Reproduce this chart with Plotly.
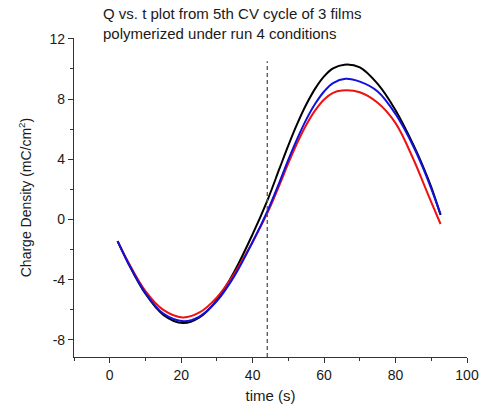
import plotly.graph_objects as go

# time (s) sample points and charge density (mC/cm^2) for 3 films
t_black = [2.2, 5, 10, 15, 20.5, 25, 30, 35, 40, 44.2, 47.5, 50, 52.5, 55, 57.5, 60, 62.5, 65.7, 70, 75, 80, 85, 88, 90, 92.6]
q_black = [-1.44, -2.82, -4.93, -6.33, -6.88, -6.52, -5.33, -3.40, -0.97, 1.31, 3.37, 4.92, 6.36, 7.63, 8.69, 9.50, 10.03, 10.28, 10.1, 9.0, 7.25, 4.95, 3.35, 2.15, 0.3]

t_blue = [2.2, 5, 10, 15, 20.7, 25, 30, 35, 40, 44.2, 47.5, 50, 52.5, 55, 57.5, 60, 62.5, 66, 70, 75, 80, 85, 88, 90, 92.6]
q_blue = [-1.44, -2.8, -4.88, -6.25, -6.75, -6.46, -5.41, -3.71, -1.49, 0.59, 2.47, 3.97, 5.37, 6.63, 7.68, 8.50, 9.06, 9.34, 9.15, 8.5, 7.0, 4.85, 3.25, 2.05, 0.35]

t_red = [2.2, 5, 10, 15, 20.4, 25, 30, 35, 40, 44.2, 47.5, 50, 52.5, 55, 57.5, 60, 62.5, 65, 70, 75, 80, 85, 88, 90, 92.6]
q_red = [-1.44, -2.75, -4.75, -6.0, -6.5, -6.19, -5.17, -3.54, -1.48, 0.47, 2.29, 3.74, 5.09, 6.27, 7.24, 7.97, 8.41, 8.56, 8.45, 7.75, 6.4, 4.0, 2.3, 1.15, -0.3]

cycle_marker_t = 44.1
marker_top = 10.5

x_ticks = [0, 20, 40, 60, 80, 100]
y_ticks = [-8, -4, 0, 4, 8, 12]

fig = go.Figure()
for t, q, c in [(t_black, q_black, "#000000"), (t_red, q_red, "#ee1111"), (t_blue, q_blue, "#1111dd")]:
    fig.add_trace(go.Scatter(x=t, y=q, mode="lines", line=dict(color=c, width=2, shape="spline", smoothing=1.0),
                             showlegend=False, hoverinfo="skip"))

fig.add_shape(type="line", xref="x", yref="y", x0=cycle_marker_t, x1=cycle_marker_t, y0=-9.13, y1=marker_top,
              line=dict(color="#555555", width=1.3, dash="4px,3px"))

font = "Liberation Sans, Arial, sans-serif"
fig.update_layout(
    width=484, height=415,
    margin=dict(l=74, r=17, t=38, b=58, autoexpand=False),
    paper_bgcolor="white", plot_bgcolor="white",
    font=dict(family=font, size=14, color="#1a1a1a"),
    xaxis=dict(range=[-10, 100], showgrid=False, zeroline=False, showline=True, linecolor="#333333", linewidth=1.2,
               ticks="outside", ticklen=5, tickcolor="#333333", tickvals=x_ticks, ticktext=[str(v) for v in x_ticks],
               minor=dict(ticks="outside", ticklen=3, dtick=10, tick0=0, tickcolor="#333333"),
               title=dict(text="time (s)", font=dict(size=15), standoff=8)),
    yaxis=dict(range=[-9.13, 12.05], showgrid=False, zeroline=False, showline=True, linecolor="#333333", linewidth=1.2,
               ticks="outside", ticklen=5, tickcolor="#333333", tickvals=y_ticks, ticktext=[str(v) for v in y_ticks],
               minor=dict(ticks="outside", ticklen=3, dtick=2, tick0=0, tickcolor="#333333"),
               title=dict(text="Charge Density (mC/cm<sup>2</sup>)", font=dict(size=14), standoff=14)),
    annotations=[dict(text="Q vs. t plot from 5th CV cycle of 3 films<br>polymerized under run 4 conditions",
                      xref="paper", yref="paper", x=0.068, y=1.0, xanchor="left", yanchor="bottom",
                      align="left", showarrow=False, font=dict(size=15, color="#1a1a1a"), yshift=-6)],
)

fig.write_html("out.html")
